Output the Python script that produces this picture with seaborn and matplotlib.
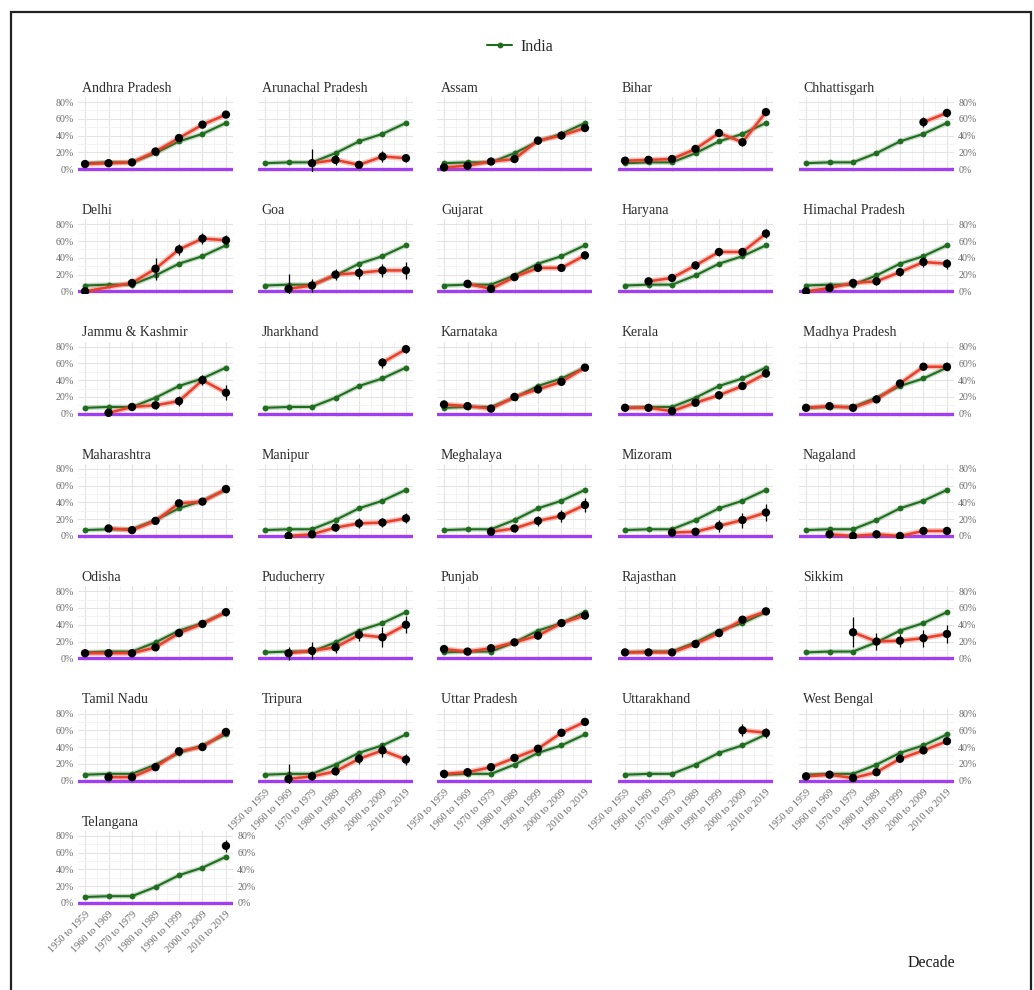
import numpy as np
import pandas as pd
import matplotlib
matplotlib.use("Agg")
import matplotlib.pyplot as plt
import seaborn as sns
from matplotlib.lines import Line2D
from matplotlib.patches import Rectangle

nan = np.nan

decades = ["1950 to 1959", "1960 to 1969", "1970 to 1979", "1980 to 1989",
           "1990 to 1999", "2000 to 2009", "2010 to 2019"]
india = [7, 8, 8, 19, 33, 42, 55]

states = ["Andhra Pradesh", "Arunachal Pradesh", "Assam", "Bihar", "Chhattisgarh",
          "Delhi", "Goa", "Gujarat", "Haryana", "Himachal Pradesh",
          "Jammu & Kashmir", "Jharkhand", "Karnataka", "Kerala", "Madhya Pradesh",
          "Maharashtra", "Manipur", "Meghalaya", "Mizoram", "Nagaland",
          "Odisha", "Puducherry", "Punjab", "Rajasthan", "Sikkim",
          "Tamil Nadu", "Tripura", "Uttar Pradesh", "Uttarakhand", "West Bengal",
          "Telangana"]

andhra_pradesh = [6, 7, 8, 21, 37, 53, 65]
andhra_pradesh_err = [2, 2, 2, 3, 3, 3, 3]
arunachal_pradesh = [nan, nan, 7, 11, 5, 15, 13]
arunachal_pradesh_err = [nan, nan, 17, 6, 3, 6, 5]
assam = [2, 4, 9, 12, 34, 40, 49]
assam_err = [2, 2, 2, 3, 4, 4, 4]
bihar = [10, 11, 12, 24, 43, 32, 68]
bihar_err = [2, 2, 2, 3, 3, 4, 3]
chhattisgarh = [nan, nan, nan, nan, nan, 56, 67]
chhattisgarh_err = [nan, nan, nan, nan, nan, 6, 5]
delhi = [0, nan, 10, 27, 50, 63, 61]
delhi_err = [2, nan, 5, 13, 7, 7, 6]
goa = [nan, 3, 7, 20, 22, 25, 25]
goa_err = [nan, 18, 8, 7, 7, 8, 10]
gujarat = [nan, 9, 3, 17, 28, 28, 43]
gujarat_err = [nan, 2, 2, 3, 3, 4, 4]
haryana = [nan, 12, 16, 31, 47, 47, 69]
haryana_err = [nan, 4, 4, 4, 5, 5, 5]
himachal_pradesh = [0, 4, 10, 12, 23, 35, 33]
himachal_pradesh_err = [2, 4, 5, 4, 5, 6, 6]
jammu_kashmir = [nan, 1, 8, 10, 15, 40, 25]
jammu_kashmir_err = [nan, 2, 4, 4, 6, 6, 9]
jharkhand = [nan, nan, nan, nan, nan, 61, 77]
jharkhand_err = [nan, nan, nan, nan, nan, 6, 5]
karnataka = [11, 9, 6, 20, 29, 38, 55]
karnataka_err = [4, 3, 3, 3, 4, 4, 3]
kerala = [7, 7, 3, 13, 22, 33, 48]
kerala_err = [3, 3, 3, 3, 4, 4, 4]
madhya_pradesh = [7, 9, 7, 17, 36, 56, 56]
madhya_pradesh_err = [2, 2, 2, 3, 3, 3, 3]
maharashtra = [nan, 9, 7, 18, 39, 41, 56]
maharashtra_err = [nan, 2, 2, 3, 3, 3, 3]
manipur = [nan, 0, 2, 10, 15, 16, 21]
manipur_err = [nan, 3, 3, 4, 6, 5, 6]
meghalaya = [nan, nan, 5, 9, 18, 24, 37]
meghalaya_err = [nan, nan, 4, 4, 6, 7, 8]
mizoram = [nan, nan, 4, 5, 12, 19, 28]
mizoram_err = [nan, nan, 4, 4, 7, 9, 10]
nagaland = [nan, 2, 0, 2, 0, 6, 6]
nagaland_err = [nan, 3, 2, 3, 2, 4, 4]
odisha = [6, 6, 6, 13, 30, 41, 55]
odisha_err = [2, 2, 2, 3, 4, 3, 4]
puducherry = [nan, 6, 9, 13, 28, 25, 40]
puducherry_err = [nan, 8, 10, 7, 7, 12, 10]
punjab = [11, 8, 12, 19, 27, 42, 51]
punjab_err = [3, 2, 3, 3, 4, 4, 4]
rajasthan = [7, 7, 7, 17, 30, 46, 56]
rajasthan_err = [2, 2, 2, 3, 3, 3, 3]
sikkim = [nan, nan, 31, 20, 21, 24, 29]
sikkim_err = [nan, nan, 18, 10, 8, 10, 11]
tamil_nadu = [nan, 4, 4, 16, 35, 40, 58]
tamil_nadu_err = [nan, 3, 3, 3, 4, 3, 4]
tripura = [nan, 2, 5, 11, 26, 36, 25]
tripura_err = [nan, 18, 4, 4, 6, 8, 7]
uttar_pradesh = [8, 10, 16, 27, 38, 57, 70]
uttar_pradesh_err = [2, 2, 2, 2, 2, 2, 2]
uttarakhand = [nan, nan, nan, nan, nan, 60, 57]
uttarakhand_err = [nan, nan, nan, nan, nan, 7, 6]
west_bengal = [5, 7, 3, 10, 26, 36, 47]
west_bengal_err = [3, 2, 2, 2, 3, 3, 3]
telangana = [nan, nan, nan, nan, nan, nan, 68]
telangana_err = [nan, nan, nan, nan, nan, nan, 7]

state_values = [andhra_pradesh, arunachal_pradesh, assam, bihar, chhattisgarh,
                delhi, goa, gujarat, haryana, himachal_pradesh,
                jammu_kashmir, jharkhand, karnataka, kerala, madhya_pradesh,
                maharashtra, manipur, meghalaya, mizoram, nagaland,
                odisha, puducherry, punjab, rajasthan, sikkim,
                tamil_nadu, tripura, uttar_pradesh, uttarakhand, west_bengal,
                telangana]
state_errors = [andhra_pradesh_err, arunachal_pradesh_err, assam_err, bihar_err, chhattisgarh_err,
                delhi_err, goa_err, gujarat_err, haryana_err, himachal_pradesh_err,
                jammu_kashmir_err, jharkhand_err, karnataka_err, kerala_err, madhya_pradesh_err,
                maharashtra_err, manipur_err, meghalaya_err, mizoram_err, nagaland_err,
                odisha_err, puducherry_err, punjab_err, rajasthan_err, sikkim_err,
                tamil_nadu_err, tripura_err, uttar_pradesh_err, uttarakhand_err, west_bengal_err,
                telangana_err]

# long tables
rows = []
for s, vals, errs in zip(states, state_values, state_errors):
    for i, (v, e) in enumerate(zip(vals, errs)):
        rows.append({"state": s, "pos": i, "decade": decades[i], "value": v, "err": e})
df = pd.DataFrame(rows)
df_india = pd.DataFrame({"pos": range(len(decades)), "decade": decades, "value": india})

sns.set_theme(style="white")
plt.rcParams["font.family"] = ["Liberation Serif", "DejaVu Serif"]

W, H = 1034, 990
fig = plt.figure(figsize=(W / 100, H / 100), dpi=100)

RED = "#e8402a"
GREEN = "#1f6e1f"
PURPLE = "#a03ff0"
TICKC = "#6b6b6b"

col_left = [78, 258, 437, 618, 799]
pw = 155
ph = 75
row_top0 = 97
row_pitch = 122.3

yticks = [0, 20, 40, 60, 80]
ylabels = [f"{t}%" for t in yticks]

for k, s in enumerate(states):
    r, c = divmod(k, 5)
    x0 = col_left[c]
    y0 = row_top0 + r * row_pitch
    ax = fig.add_axes([x0 / W, 1 - (y0 + ph) / H, pw / W, ph / H])
    ax.set_xlim(-0.3, 6.3)
    ax.set_ylim(-3.5, 86)
    for sp in ax.spines.values():
        sp.set_visible(False)
    ax.set_xticks(range(7))
    ax.set_xticks(np.arange(0.5, 6, 1), minor=True)
    ax.set_yticks(yticks)
    ax.set_yticks([10, 30, 50, 70], minor=True)
    ax.grid(which="major", color="#e4e4e4", lw=0.8)
    ax.grid(which="minor", color="#f1f1f1", lw=0.6)
    ax.set_axisbelow(True)
    ax.tick_params(which="both", length=0, pad=3, labelsize=7.2, labelcolor=TICKC)

    ax.axhline(0, color=PURPLE, lw=2.4, zorder=1.5)

    sub = df[df.state == s].dropna(subset=["value"])
    # India reference
    sns.lineplot(data=df_india, x="pos", y="value", ax=ax, color=GREEN, lw=3.5,
                 alpha=0.25, legend=False, zorder=2)
    sns.lineplot(data=df_india, x="pos", y="value", ax=ax, color=GREEN, lw=1.5,
                 marker="o", markersize=4.2, markeredgewidth=0, legend=False, zorder=3)
    # State
    if len(sub) > 1:
        sns.lineplot(data=sub, x="pos", y="value", ax=ax, color=RED, lw=4.0,
                     alpha=0.3, legend=False, zorder=4)
        sns.lineplot(data=sub, x="pos", y="value", ax=ax, color=RED, lw=1.8,
                     legend=False, zorder=5)
    ax.errorbar(sub["pos"], sub["value"], yerr=sub["err"], fmt="none",
                ecolor="black", elinewidth=0.9, zorder=6)
    sns.scatterplot(data=sub, x="pos", y="value", ax=ax, color="black", s=36,
                    edgecolor="none", legend=False, zorder=7)

    ax.set_xlabel("")
    ax.set_ylabel("")

    # title
    ax.text(0.025, 1.07, s, transform=ax.transAxes, ha="left", va="baseline",
            fontsize=10, color="#2b2b2b")

    # y labels: left for col 1, right for col 5 and the last panel
    left_lab = (c == 0)
    right_lab = (c == 4) or (k == len(states) - 1)
    ax.tick_params(axis="y", labelleft=left_lab, labelright=right_lab)
    if left_lab or right_lab:
        ax.set_yticklabels(ylabels)

    # x labels: bottom panel of each column
    bottom = (k + 5 >= len(states))
    if bottom:
        ax.set_xticklabels(decades, rotation=45, ha="right", va="top",
                           rotation_mode="anchor", fontsize=7.4, color=TICKC)
    else:
        ax.set_xticklabels([])

# legend
handle = Line2D([0], [0], color=GREEN, lw=1.5, marker="o", markersize=4.2,
                markeredgewidth=0)
fig.legend([handle], ["India"], loc="center", bbox_to_anchor=(520 / W, 1 - 47 / H),
           frameon=False, fontsize=11.5, handlelength=1.6, handletextpad=0.5)

fig.text(931 / W, 1 - 963 / H, "Decade", ha="center", va="center", fontsize=11.5,
         color="#1a1a1a")

# border frame
fig.add_artist(Rectangle((11 / W, -0.05), (1031 - 11) / W, 1.05 - 12 / H,
                         transform=fig.transFigure, fill=False, edgecolor="#222222",
                         lw=1.6))

fig.savefig("out.png", dpi=100)
